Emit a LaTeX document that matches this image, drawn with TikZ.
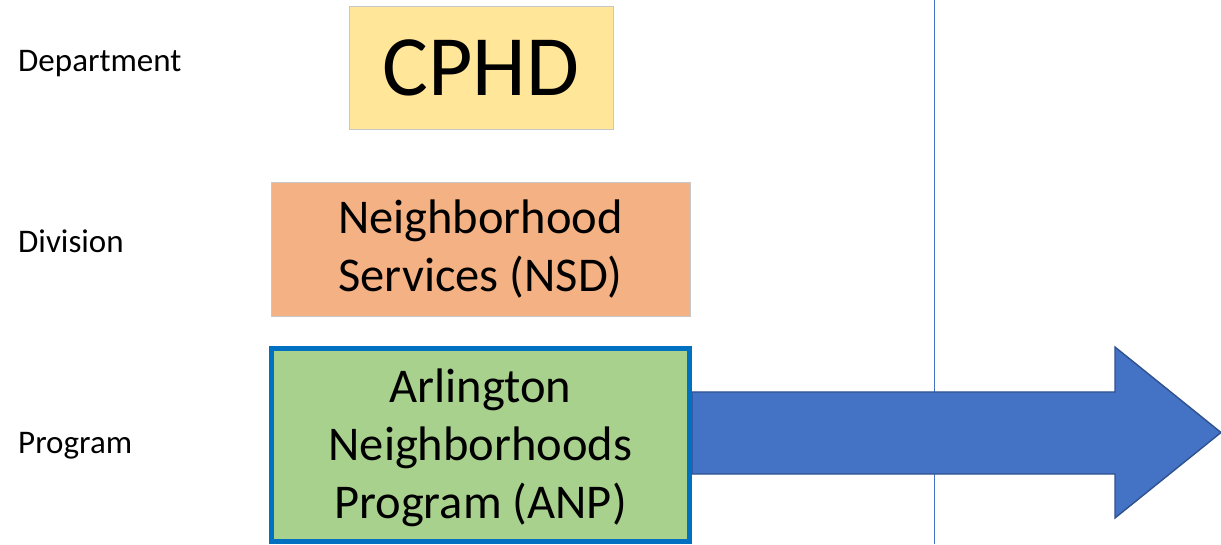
\documentclass[tikz,border=0pt]{standalone}
\usepackage{fontspec}
\setmainfont{Carlito}
\definecolor{cphdfill}{HTML}{FFE699}
\definecolor{nsdfill}{HTML}{F4B183}
\definecolor{anpfill}{HTML}{A9D18E}
\definecolor{anpborder}{HTML}{0070C0}
\definecolor{arrowfill}{HTML}{4472C4}
\definecolor{arrowborder}{HTML}{2F528F}
\definecolor{lightborder}{HTML}{C8C8C8}
\begin{document}
\begin{tikzpicture}[x=1pt,y=1pt,
  levellabel/.style={anchor=base west,inner sep=0pt,font=\fontsize{33}{39}\selectfont},
  orgbox/.style={draw=lightborder,line width=0.8pt,inner sep=0pt,align=center,
     font=\fontsize{48.5}{58}\selectfont},
  bigarrow/.style={fill=arrowfill,draw=arrowborder,line width=1.4pt,line join=miter}]
\useasboundingbox (0,0) rectangle (1221,544);
% level labels
\node[levellabel] (ldep) at (18,472) {Department};
\node[levellabel] (ldiv) at (18,291) {Division};
\node[levellabel] (lprog) at (18,91) {Program};
% vertical separator
\coordinate (vtop) at (934,544);
\coordinate (vbot) at (934,0);
\draw[arrowfill,line width=1pt] (vtop) -- (vbot);
% boxes
\node[orgbox,fill=cphdfill,minimum width=264pt,minimum height=123pt,
      font=\fontsize{86}{100}\selectfont] (cphd) at (481,476.5) {CPHD};
\node[orgbox,fill=nsdfill,minimum width=419pt,minimum height=134pt] (nsd) at (480.5,295)
  {Neighborhood\\Services (NSD)};
% arrow
\coordinate (astart) at (692,152);
\draw[bigarrow] (astart) -- (1115,152) -- (1115,197) -- (1221,111.5) -- (1115,26)
   -- (1115,70) -- (692,70) -- cycle;
\node[orgbox,draw=anpborder,line width=5pt,fill=anpfill,minimum width=418pt,
      minimum height=193pt] (anp) at (480.5,99) {};
\node[align=center,inner sep=0pt,font=\fontsize{48.5}{58}\selectfont] (anptext) at (480.5,96)
  {Arlington\\Neighborhoods\\Program (ANP)};
\end{tikzpicture}
\end{document}
